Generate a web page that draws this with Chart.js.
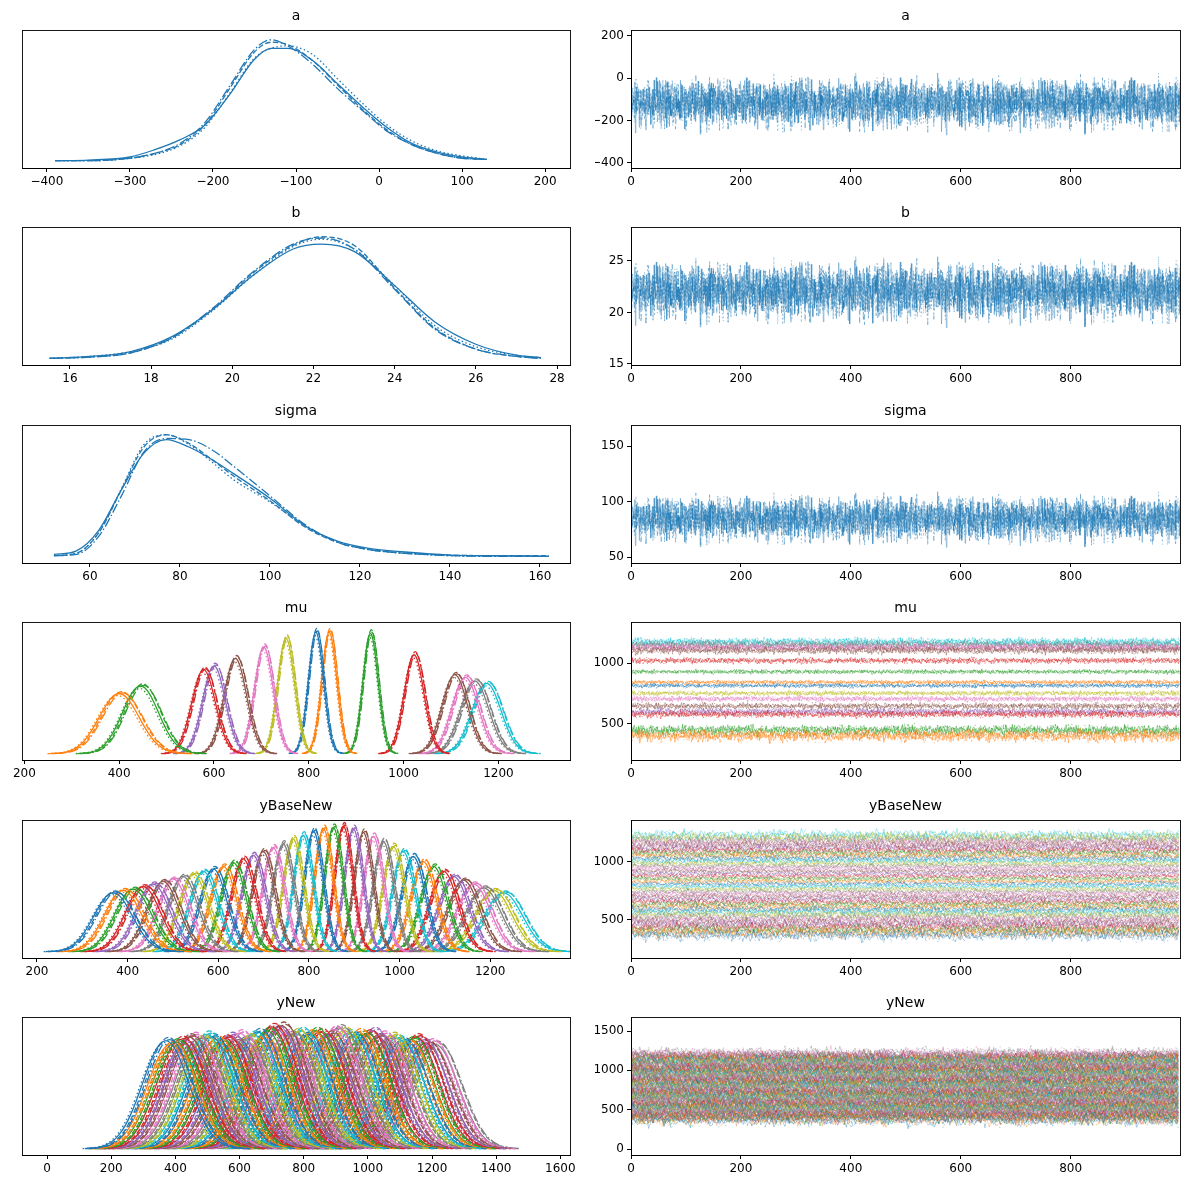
<!DOCTYPE html>
<html><head><meta charset="utf-8">
<script src="https://cdn.jsdelivr.net/npm/chart.js@4"></script>
<style>body{margin:0;background:#fff;width:1189px;height:1189px;position:relative;overflow:hidden}canvas{position:absolute}</style>
</head><body>
<script>
// ---------- data ----------
const tab10=['#1f77b4','#ff7f0e','#2ca02c','#d62728','#9467bd','#8c564b','#e377c2','#7f7f7f','#bcbd22','#17becf'];
const bellZ=[-3.5,-3,-2.75,-2.5,-2.25,-2,-1.75,-1.5,-1.25,-1,-0.75,-0.5,-0.25,0,0.25,0.5,0.75,1,1.25,1.5,1.75,2,2.25,2.5,2.75,3,3.5];
const bellV=[0.002,0.011,0.023,0.044,0.080,0.135,0.216,0.325,0.458,0.607,0.755,0.883,0.969,1,0.969,0.883,0.755,0.607,0.458,0.325,0.216,0.135,0.080,0.044,0.023,0.011,0.002];
const chainDx=[0,0.12,-0.1,0.18];
const chainDh=[1,1.03,0.97,1.01];
const noise=[0.2,-0.5,0.8,-0.1,0.4,-0.9,0.1,0.6,-0.3,0.0,-0.7,0.5,0.3,-0.2,0.9,-0.6,0.1,-0.4,0.7,-0.8,0.2,0.5,-0.1,-0.5,0.6,0.3,-0.9,0.0,0.4,-0.3,0.8,-0.2,-0.6,0.1,0.5,-0.4,0.7,0.2,-1.0,0.3,-0.1,0.6,-0.7,0.4,0.0,-0.3,0.9,-0.5,0.2,0.1,-0.8,0.5,0.3,-0.2,0.6,-0.6,0.0,0.4,-0.4,1.0,-0.1,0.2,-0.9,0.7,0.1,-0.3,0.5,-0.5,0.3,-0.7,0.8,0.0,-0.2,0.4,-0.6,0.2,0.6,-0.4,-0.1,0.9,-0.8,0.3,0.1,-0.3,0.5,-0.5,0.7,-0.2,0.0,0.4,-0.7,0.2,0.6,-0.1,-0.4,0.3,-0.9,0.5,0.1,-0.3];
// a
const aX=[-390,-350,-300,-270,-240,-210,-180,-150,-130,-110,-80,-50,-20,10,40,70,100,130];
const aY=[[.01,.015,.04,.1,.18,.3,.55,.84,.93,.93,.83,.64,.45,.28,.15,.08,.04,.02],
[.01,.01,.03,.07,.14,.3,.6,.9,.98,.96,.83,.63,.43,.26,.14,.07,.03,.02],
[.01,.01,.03,.06,.13,.28,.56,.85,.93,.95,.88,.68,.48,.3,.17,.09,.05,.02],
[.01,.01,.03,.07,.15,.32,.62,.92,1.0,.95,.8,.6,.42,.25,.14,.07,.03,.02]];
const bX=[15.5,16.5,17.5,18.5,19.5,20.5,21.5,22.2,23,24,25,26,27,27.6];
const bY=[[.005,.02,.06,.18,.4,.68,.9,.94,.88,.6,.3,.12,.03,.01],
[.005,.015,.05,.17,.4,.7,.93,1.0,.93,.58,.25,.08,.02,.005],
[.005,.02,.06,.16,.39,.68,.92,.98,.9,.6,.27,.1,.03,.01],
[.005,.015,.05,.17,.41,.71,.94,.99,.9,.57,.24,.08,.02,.005]];
const sX=[52,57,62,67,72,77,82,87,92,100,108,115,122,130,140,150,162];
const sY=[[.02,.05,.22,.55,.85,.96,.9,.8,.68,.48,.25,.13,.07,.04,.015,.01,.005],
[.01,.03,.2,.55,.9,1.0,.93,.8,.66,.46,.24,.12,.06,.03,.015,.01,.01],
[.01,.03,.2,.56,.92,1.0,.92,.78,.63,.45,.25,.12,.06,.03,.01,.005,.005],
[.01,.02,.17,.5,.86,.97,.96,.88,.74,.5,.26,.12,.06,.03,.01,.005,.005]];
// mu
const muC=[400,445,578,600,645,705,752,815,843,930,1022,1108,1130,1150,1175];
const muH=[0.48,0.54,0.67,0.70,0.76,0.85,0.92,0.97,0.97,0.96,0.79,0.63,0.61,0.58,0.56];
const muS=[42,38,25,24,24,20,18,16,16,16,21,27,28,30,31];
const muCol=[1,2,3,4,5,6,8,0,1,2,3,5,6,7,9];
// yBaseNew
const ybC=[368,390,412,434,456,478,500,522,545,567,589,611,633,655,677,699,721,743,765,787,810,832,854,876,898,920,942,964,986,1008,1030,1052,1075,1097,1119,1141,1163,1185,1207,1229];
const ybH=[0.47,0.49,0.5,0.52,0.54,0.56,0.58,0.6,0.62,0.64,0.66,0.68,0.71,0.74,0.77,0.8,0.83,0.86,0.9,0.93,0.96,0.98,0.99,1.0,0.98,0.95,0.92,0.88,0.84,0.8,0.76,0.72,0.68,0.64,0.6,0.57,0.54,0.51,0.49,0.47];
// yNew
const ynC=[370,385,400,415,428,442,455,470,484,498,512,526,540,555,570,585,600,614,628,642,656,670,685,700,715,730,745,760,775,790,805,820,835,850,865,880,895,910,925,940,955,970,985,1000,1015,1030,1045,1060,1075,1090,1105,1120,1135,1150,1165,1180,1195,1210];
const ynH=[0.87,0.84,0.86,0.88,0.85,0.9,0.91,0.88,0.89,0.92,0.9,0.88,0.86,0.89,0.91,0.87,0.93,0.88,0.9,0.92,0.94,0.89,0.95,0.98,0.96,0.99,0.93,0.92,0.94,0.95,0.91,0.93,0.95,0.94,0.9,0.92,0.96,0.97,0.95,0.93,0.91,0.94,0.92,0.93,0.95,0.9,0.92,0.88,0.91,0.89,0.87,0.86,0.88,0.9,0.87,0.85,0.86,0.84];
const ynS=72;
// ---------- helpers ----------
const dashes=[[],[5.5,2.4],[1.5,2.5],[9.6,2.4,1.5,2.4]];
function hexA(h,a){const n=parseInt(h.slice(1),16);return `rgba(${n>>16},${(n>>8)&255},${n&255},${a})`;}
function kdeSets(xs,ys,col){return ys.map((y,c)=>({data:xs.map((x,i)=>({x,y:y[i]})),borderColor:col,borderDash:dashes[c],borderWidth:1.3,cubicInterpolationMode:'monotone'}));}
function peakSets(C,H,S,colIdx){const out=[];C.forEach((c,k)=>{for(let ch=0;ch<4;ch++){const s=Array.isArray(S)?S[k]:S;out.push({data:bellZ.map((z,i)=>({x:c+(z+chainDx[ch])*s,y:H[k]*chainDh[ch]*bellV[i]})),borderColor:tab10[colIdx(k)],borderDash:dashes[ch],borderWidth:1.3,tension:0.4});}});return out;}
function traceSets(levels,amps,colIdx,alpha,n){const out=[];levels.forEach((L,k)=>{for(let ch=0;ch<4;ch++){const s=k*7+ch*13;const d=[];for(let i=0;i<n;i++){d.push({x:i*1000/n,y:L+amps[k]*(0.65*noise[(i*37+s)%100]+0.45*noise[(i*13+3*s+i%7)%100])});}out.push({data:d,borderColor:hexA(tab10[colIdx(k)],alpha),borderDash:dashes[ch],borderWidth:1});}});return out;}
const fmt=v=>v<0?'\u2212'+(-v):String(v);
const boxTitle={id:'boxTitle',afterDraw(ch){const a=ch.chartArea,c=ch.ctx;c.save();c.strokeStyle='#000';c.lineWidth=0.9;c.strokeRect(a.left+0.5,a.top+0.5,a.right-a.left,a.bottom-a.top);c.fillStyle='#000';c.font='14px "DejaVu Sans"';c.textAlign='center';c.textBaseline='middle';c.fillText(ch.options.plugins.myTitle,(a.left+a.right)/2,16);c.restore();}};
function mk(row,left,title,xr,xt,yr,yt,datasets){
  const cv=document.createElement('canvas');cv.width=594;cv.height=197;
  cv.style.left=(left?0:595)+'px';cv.style.top=(row*197.4)+'px';document.body.appendChild(cv);
  const ax={type:'linear',grid:{display:true,drawOnChartArea:false,drawTicks:true,tickLength:4,color:'#000'},border:{display:true,color:'#000'},ticks:{color:'#000',font:{family:'DejaVu Sans',size:12},padding:3,callback:fmt,maxRotation:0,autoSkip:false}};
  new Chart(cv,{type:'line',data:{datasets},plugins:[boxTitle],options:{responsive:false,animation:false,devicePixelRatio:1,
    layout:{padding:{top:30,left:left?22:0,right:left?24:9,bottom:0}},
    elements:{point:{radius:0}},
    plugins:{legend:{display:false},tooltip:{enabled:false},myTitle:title},
    scales:{x:Object.assign({},ax,{min:xr[0],max:xr[1],afterBuildTicks:a=>{a.ticks=xt.map(v=>({value:v}));},afterFit:s=>{s.height=29;}}),
      y:Object.assign({},ax,{display:!left,min:yr[0],max:yr[1],afterBuildTicks:a=>{a.ticks=yt.map(v=>({value:v}));},afterFit:s=>{s.width=left?0:36;}})}}});
}
const C0=tab10[0];
const XT=[0,200,400,600,800];
// left KDE
mk(0,true,'a',[-430,230],[-400,-300,-200,-100,0,100,200],[-0.05,1.08],[],kdeSets(aX,aY,C0));
mk(1,true,'b',[14.82,28.32],[16,18,20,22,24,26,28],[-0.05,1.08],[],kdeSets(bX,bY,C0));
mk(2,true,'sigma',[44.9,166.7],[60,80,100,120,140,160],[-0.05,1.08],[],kdeSets(sX,sY,C0));
mk(3,true,'mu',[195,1351],[200,400,600,800,1000,1200],[-0.05,1.05],[],peakSets(muC,muH,muS,k=>muCol[k]));
mk(4,true,'yBaseNew',[167,1376],[200,400,600,800,1000,1200],[-0.05,1.05],[],peakSets(ybC,ybH,ybH.map(h=>20/h),k=>k%10));
mk(5,true,'yNew',[-78,1630],[0,200,400,600,800,1000,1200,1400,1600],[-0.05,1.06],[],peakSets(ynC,ynH,ynS,k=>k%10));
// right traces
mk(0,false,'a',[0,999],XT,[-424,228],[-400,-200,0,200],traceSets([-120],[140],k=>0,0.4,1000));
mk(1,false,'b',[0,999],XT,[14.9,28.3],[15,20,25],traceSets([22],[3.3],k=>0,0.4,1000));
mk(2,false,'sigma',[0,999],XT,[44.6,169],[50,100,150],traceSets([84],[24],k=>0,0.4,1000));
mk(3,false,'mu',[0,999],XT,[200,1342],[500,1000],traceSets(muC,muS.map(s=>s*1.5),k=>muCol[k],0.45,500));
mk(4,false,'yBaseNew',[0,999],XT,[172,1362],[500,1000],traceSets(ybC,ybH.map(h=>30/h),k=>k%10,0.35,300));
mk(5,false,'yNew',[0,999],XT,[-76,1678],[0,500,1000,1500],traceSets(ynC,ynC.map(()=>110),k=>k%10,0.35,250));
</script>
</body></html>
